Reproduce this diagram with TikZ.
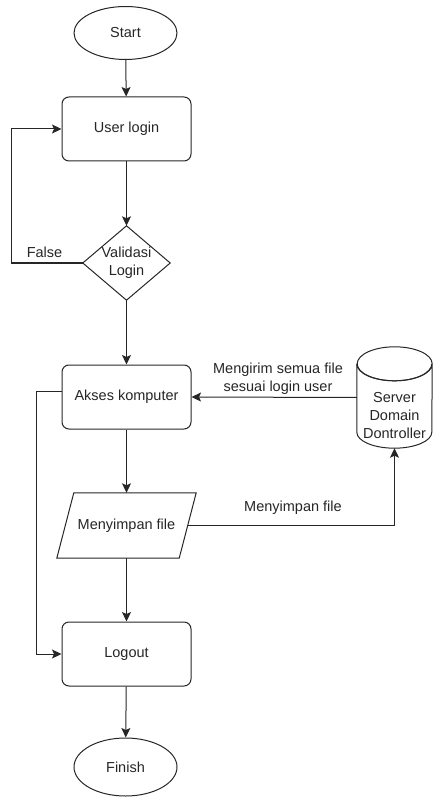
\documentclass[tikz,border=0pt]{standalone}
\usepackage{fontspec}
\setmainfont{Liberation Sans}
\usetikzlibrary{arrows.meta,shapes.geometric}
\begin{document}
\begin{tikzpicture}[x=1pt,y=-1pt,
  every node/.style={font=\fontsize{14.5}{18}\selectfont, text=black!85, align=center},
  line/.style={line width=1pt, draw=black!85},
  arr/.style={line, -{Stealth[length=9.5pt,width=9pt,inset=2pt]}},
  term/.style={ellipse, line, minimum width=103pt, minimum height=53pt, inner sep=0pt},
  procbox/.style={rectangle, rounded corners=7pt, line, minimum width=129pt, minimum height=64pt, inner sep=0pt},
  ghost/.style={rectangle, draw=none, inner sep=0pt}]
\useasboundingbox (0,0) rectangle (433,799);

\node[term] (start) at (125.5,33) {Start};
\node[procbox] (login) at (126.5,129) {User login};
\node[ghost, minimum width=87pt, minimum height=74pt] (valid) at (126.5,263) {Validasi\\Login};
\draw[line] (valid.north) -- (valid.east) -- (valid.south) -- (valid.west) -- cycle;
\node[procbox] (akses) at (126.5,397) {Akses komputer};
\node[ghost, minimum width=122pt, minimum height=65pt] (file) at (126.5,525.5) {Menyimpan file};
\draw[line] ([xshift=8.5pt]file.north west) -- ([xshift=8.5pt]file.north east)
  -- ([xshift=-8.5pt]file.south east) -- ([xshift=-8.5pt]file.south west) -- cycle;
\node[procbox] (logout) at (126.5,654) {Logout};
\node[term, minimum height=58pt] (finish) at (125.5,767) {Finish};

% cylinder
\node[ghost, minimum width=75pt, minimum height=101pt] (srv) at (394.5,397.5) {};
\draw[line] ([yshift=-17pt]srv.north west) -- ([yshift=16pt]srv.south west)
  arc[start angle=180, end angle=360, x radius=37.5pt, y radius=16pt]
  -- ([yshift=-17pt]srv.north east)
  arc[start angle=0, end angle=360, x radius=37.5pt, y radius=17pt];
\draw[line] ([yshift=-17pt]srv.north west) arc[start angle=180, end angle=360, x radius=37.5pt, y radius=17pt];
\node (srvtxt) at ([yshift=-18pt]srv.center) {Server\\Domain\\Dontroller};

% connectors
\draw[arr] (start) -- (login);
\draw[arr] (login) -- (valid.north);
\draw[arr] (valid.west) -| (11,129) -- (login.west);
\node (false) at (44.5,252) {False};
\draw[arr] (valid.south) -- (akses);
\draw[arr] (akses) -- (file.north);
\draw[arr] (file.south) -- (logout);
\draw[arr] (logout) -- (finish);
\draw[arr] ([yshift=6pt]akses.west) -| (36,654) -- (logout.west);
\draw[arr] (srv.west) -- (akses.east);
\node (mengirim) at (278,379) {Mengirim semua file\\sesuai login user};
\draw[arr] (file.east) -| (srv.south);
\node (menyimpan) at (293,508) {Menyimpan file};
\end{tikzpicture}
\end{document}
